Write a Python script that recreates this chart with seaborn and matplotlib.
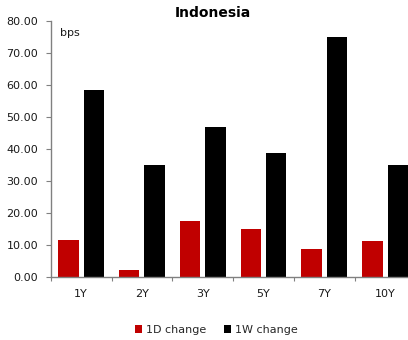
import matplotlib
matplotlib.use("Agg")
import matplotlib.pyplot as plt
from matplotlib.ticker import FormatStrFormatter, FixedLocator
import pandas as pd
import seaborn as sns

tenors = ["1Y", "2Y", "3Y", "5Y", "7Y", "10Y"]
change_1d = [11.5, 2.2, 17.6, 14.9, 8.8, 11.3]
change_1w = [58.3, 34.9, 46.9, 38.8, 74.9, 34.9]
series_names = ["1D change", "1W change"]
colors = ["#C00000", "#000000"]

df = pd.DataFrame({
    "tenor": tenors * 2,
    "bps": change_1d + change_1w,
    "series": [series_names[0]] * len(tenors) + [series_names[1]] * len(tenors),
})

sns.set_theme(style="white")
plt.rcParams["font.family"] = ["DejaVu Sans"]

fig = plt.figure(figsize=(4.08, 3.40), dpi=100)
ax = fig.add_axes([0.1243, 0.1853, 0.894, 0.7529])

sns.barplot(data=df, x="tenor", y="bps", hue="series", order=tenors,
            hue_order=series_names, palette=dict(zip(series_names, colors)),
            saturation=1, width=0.84, gap=0.2, ax=ax, legend=True,
            edgecolor="none", linewidth=0)

ax.set_xlim(-0.5, len(tenors) - 0.5)
ax.set_ylim(0, 80)
ax.set_yticks(range(0, 81, 10))
ax.yaxis.set_major_formatter(FormatStrFormatter("%.2f"))
ax.set_xlabel("")
ax.set_ylabel("")

spine_color = "#808080"
for side in ["top", "right"]:
    ax.spines[side].set_visible(False)
for side in ["left", "bottom"]:
    ax.spines[side].set_color(spine_color)
    ax.spines[side].set_linewidth(1.0)

ax.tick_params(axis="y", which="major", left=True, length=3.6, width=0.8,
               color=spine_color, labelsize=8, pad=5.5, labelcolor="#1a1a1a")
ax.tick_params(axis="x", which="major", bottom=False, length=0,
               labelsize=8, pad=9, labelcolor="#1a1a1a")
ax.xaxis.set_minor_locator(FixedLocator([i - 0.5 for i in range(len(tenors) + 1)]))
ax.tick_params(axis="x", which="minor", bottom=True, length=3, width=0.8,
               color=spine_color)

fig.text(213 / 408, 1 - 13 / 340, "Indonesia", ha="center", va="center",
         fontsize=10, fontweight="bold", color="black")
fig.text(60 / 408, 1 - 33 / 340, "bps", ha="left", va="center",
         fontsize=8, color="#1a1a1a")

handles, labels = ax.get_legend_handles_labels()
ax.legend_.remove()
fig.legend(handles, labels, loc="center", bbox_to_anchor=(216 / 408, 1 - 330 / 340),
           ncol=2, frameon=False, fontsize=8, handlelength=0.7, handleheight=0.7,
           handletextpad=0.3, columnspacing=1.6)

fig.savefig("out.png", dpi=100)
